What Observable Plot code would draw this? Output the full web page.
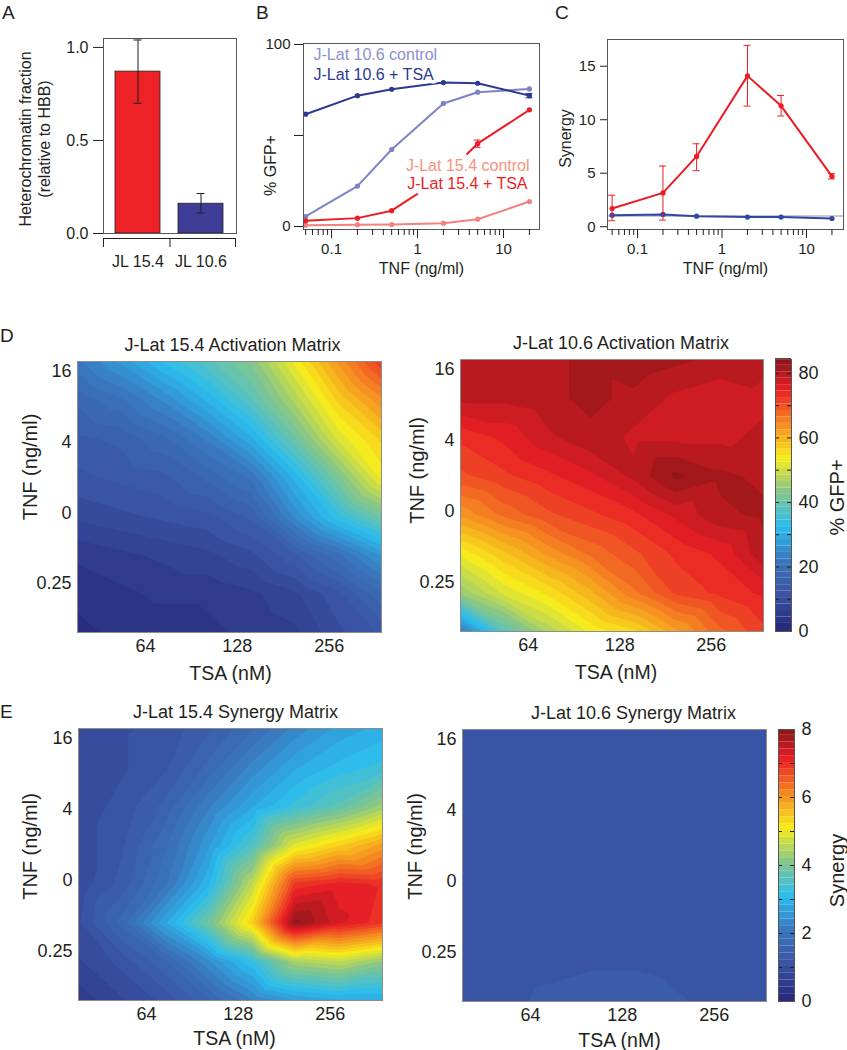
<!DOCTYPE html>
<html>
<head>
<meta charset="utf-8">
<script src="https://cdn.jsdelivr.net/npm/d3@7"></script>
<script src="https://cdn.jsdelivr.net/npm/@observablehq/plot@0.6"></script>
<style>
  body { margin: 0; background: #fff; }
  #fig { position: relative; width: 847px; height: 1050px; overflow: hidden; background: #fff;
         font-family: 'Liberation Sans', Arial, Helvetica, sans-serif; color: #231f20; }
  .panel { position: absolute; }
  .letter { position: absolute; font-size: 19px; line-height: 1; }
</style>
</head>
<body>
<div id="fig"></div>
<script>
const FONT = "'Liberation Sans', Arial, Helvetica, sans-serif";
const INK = "#231f20";

// ---------- Panel A ----------
const hetCategories = ["JL 15.4", "JL 10.6"];
const hetMeans = [0.87, 0.16];
const hetLow = [0.70, 0.11];
const hetHigh = [1.04, 0.215];
const hetColors = ["#ec2227", "#3e3d97"];

// ---------- Panels B & C ----------
const tnfDoses = [0.05, 0.2, 0.5, 2, 5, 20];
const gfp106Control = [5.5, 22.2, 42.3, 67.6, 73.8, 75.6];
const gfp106TSA = [61.7, 71.9, 75.4, 79.1, 78.7, 71.9];
const gfp154Control = [0.7, 0.9, 1.1, 1.8, 4.0, 13.7];
const gfp154TSA = [3.1, 4.6, 8.7, 27.3, 45.5, 64.1];
const gfp106TSAErr = [0, 0, 0, 0, 0, 1.2];
const gfp154TSAErr = [0, 0, 0, 0, 2.0, 0];
const seriesNames = ["J-Lat 10.6 control", "J-Lat 10.6 + TSA", "J-Lat 15.4 control", "J-Lat 15.4 + TSA"];
const seriesLineColors = ["#7d82c4", "#2b3990", "#f3817f", "#ec1c24"];
const seriesTextColors = ["#8c90cc", "#2b3990", "#f6937e", "#ec1c24"];

const synergy154 = [1.7, 3.16, 6.57, 14.1, 11.3, 4.71];
const synergy154Low = [0.56, 0.62, 5.24, 11.28, 10.35, 4.46];
const synergy154High = [2.94, 5.67, 7.75, 16.95, 12.27, 4.96];
const synergy106 = [1.08, 1.15, 0.99, 0.9, 0.9, 0.77];

const tnfMajorTicks = [0.1, 1, 10];
const tnfMinorTicks = [0.05, 0.06, 0.07, 0.08, 0.09, 0.2, 0.3, 0.4, 0.5, 0.6, 0.7, 0.8, 0.9,
                       2, 3, 4, 5, 6, 7, 8, 9, 20];

// ---------- Panels D & E (matrices, rows = TNF high -> low, cols = TSA low -> high) ----------
const tsaGridLog2 = [5.26, 5.73, 6.21, 6.68, 7.15, 7.62, 8.10, 8.57];
const tnfGridLog2 = [4.27, 3.18, 2.08, 0.99, -0.10, -1.19, -2.29, -3.38];
const tsaTickLog2 = [6, 7, 8];
const tsaTickLabels = ["64", "128", "256"];
const tnfTickLog2 = [4, 2, 0, -2];
const tnfTickLabels = ["16", "4", "0", "0.25"];

const act154 = [
  [22, 27, 33, 38, 43, 53, 63, 72],
  [17, 20, 25, 31, 38, 47, 57, 64],
  [14, 15, 18, 23, 30, 40, 51, 57],
  [12, 13, 14, 17, 21, 31, 42, 53],
  [9, 10, 11, 12, 15, 25, 34, 41],
  [5, 6, 7, 8, 10, 14, 20, 27],
  [3, 4, 5, 5, 6, 8, 12, 18],
  [2, 3, 3, 4, 5, 6, 10, 13]
];
const act106 = [
  [79, 79, 80, 81, 82, 81, 80, 79],
  [79, 79, 80, 81, 80, 78, 77, 78],
  [73, 75, 78, 80, 78, 78, 78, 79],
  [70, 72, 74, 76, 79, 83, 81, 80],
  [63, 67, 70, 72, 74, 77, 80, 81],
  [53, 58, 63, 67, 70, 73, 75, 80],
  [45, 51, 55, 60, 66, 71, 73, 75],
  [22, 38, 47, 53, 56, 62, 68, 72]
];
const syn154 = [
  [0.9, 1.0, 1.1, 1.4, 1.8, 2.3, 2.7, 2.9],
  [0.9, 1.0, 1.2, 1.7, 2.3, 2.8, 3.1, 3.3],
  [0.9, 1.1, 1.5, 2.2, 2.8, 3.3, 3.7, 4.3],
  [0.9, 1.2, 1.8, 2.6, 3.5, 4.9, 5.4, 5.9],
  [0.9, 1.3, 2.0, 3.0, 4.6, 6.9, 7.1, 7.0],
  [1.0, 1.7, 2.8, 3.9, 5.4, 7.9, 7.3, 6.9],
  [0.8, 1.1, 1.6, 2.4, 3.2, 4.4, 4.6, 4.2],
  [0.5, 0.8, 1.1, 1.6, 2.2, 2.6, 2.8, 2.8]
];
const syn106 = [
  [1.05, 1.05, 1.05, 1.05, 1.05, 1.05, 1.05, 1.1],
  [1.05, 1.05, 1.05, 1.05, 1.05, 1.05, 1.1, 1.2],
  [1.05, 1.05, 1.05, 1.05, 1.05, 1.05, 1.05, 1.1],
  [1.05, 1.05, 1.05, 1.05, 1.05, 1.05, 1.05, 1.05],
  [1.05, 1.05, 1.05, 1.05, 1.05, 1.05, 1.05, 1.05],
  [1.05, 1.05, 1.1, 1.1, 1.1, 1.1, 1.05, 1.05],
  [1.05, 1.1, 1.15, 1.2, 1.2, 1.15, 1.1, 1.05],
  [1.05, 1.15, 1.3, 1.35, 1.35, 1.25, 1.15, 1.05]
];

const gfpMax = 84.3;
const synMax = 8;
const gfpThresholds = d3.range(0, 43).map(i => i * 2 + 0.5);
const synThresholds = d3.range(0, 40).map(i => i * 2 / 10 + 0.03);
const gfpBarTicks = [0, 20, 40, 60, 80];
const gfpBarMinor = [10, 20, 30, 40, 50, 60, 70, 80];
const synBarTicks = [0, 2, 4, 6, 8];
const synBarMinor = [1, 2, 3, 4, 5, 6, 7];

const jetStops = [0, 0.125, 0.25, 0.375, 0.5, 0.625, 0.75, 0.875, 1];
const jetColors = ["#272a7d", "#3a53a4", "#3a78be", "#2bbdee", "#86c68a", "#f7ec1b", "#f68b21", "#ea1f26", "#7d1417"];

// ---------- helpers ----------
const fig = document.getElementById("fig");
function mount(node, left, top) {
  const div = document.createElement("div");
  div.className = "panel";
  div.style.left = left + "px";
  div.style.top = top + "px";
  div.appendChild(node);
  fig.appendChild(div);
}
function letter(t, left, top) {
  const d = document.createElement("div");
  d.className = "letter";
  d.textContent = t;
  d.style.left = left + "px";
  d.style.top = top + "px";
  fig.appendChild(d);
}
const baseStyle = (size) => ({fontFamily: FONT, fontSize: size + "px", color: INK, background: "transparent", maxWidth: "none", overflow: "visible"});
const label = (txt, opts) => Plot.text([txt], {text: d => d, textAnchor: "middle", lineAnchor: "middle", fill: INK, ...opts});

// ---------- Panel A ----------
{
  const W = 250, H = 290, ml = 103, mr = 14, mt = 38, mb = 57;
  const pIn = 0.28, pOut = 0.18;
  const step = (W - ml - mr) / (hetCategories.length - pIn + 2 * pOut);
  const bw = step * (1 - pIn);
  const het = hetCategories.map((c, i) => ({cat: c, val: hetMeans[i], lo: hetLow[i], hi: hetHigh[i], color: hetColors[i]}));
  const capInset = bw / 2 - 4.5;
  const p = Plot.plot({
    width: W, height: H, marginLeft: ml, marginRight: mr, marginTop: mt, marginBottom: mb,
    style: baseStyle(16),
    x: {domain: hetCategories, paddingInner: pIn, paddingOuter: pOut},
    y: {domain: [0, 1.048]},
    marks: [
      Plot.barY(het, {x: "cat", y: "val", fill: "color", stroke: INK, strokeWidth: 0.8}),
      Plot.ruleX(het, {x: "cat", y1: "lo", y2: "hi", stroke: INK, strokeWidth: 1}),
      Plot.tickY(het, {x: "cat", y: "lo", stroke: INK, insetLeft: capInset, insetRight: capInset}),
      Plot.tickY(het, {x: "cat", y: "hi", stroke: INK, insetLeft: capInset, insetRight: capInset}),
      Plot.frame({stroke: "#555"}),
      Plot.axisY({ticks: [0, 0.5, 1], tickFormat: d3.format(".1f"), tickSize: 10, tickPadding: 5, label: null, fontSize: 16}),
      Plot.axisX({tickSize: 0, tickPadding: 22, label: null, fontSize: 16}),
      Plot.ruleY([0], {dy: 5, stroke: INK}),
      Plot.ruleX([hetCategories[0]], {x: d => d, y1: 0, y2: 0, dy: 5, insetBottom: -9, dx: -(bw / 2 + pOut * step), stroke: INK}),
      Plot.ruleX([hetCategories[0]], {x: d => d, y1: 0, y2: 0, dy: 5, insetBottom: -9, dx: step / 2, stroke: INK}),
      Plot.ruleX([hetCategories[1]], {x: d => d, y1: 0, y2: 0, dy: 5, insetBottom: -9, dx: (bw / 2 + pOut * step), stroke: INK}),
      label("Heterochromatin fraction\n(relative to HBB)", {frameAnchor: "left", rotate: -90, dx: -69, dy: 3, lineHeight: 1.2, fontSize: 16})
    ]
  });
  mount(p, 0, 0);
}

// ---------- Panel B ----------
{
  const rows = [];
  const vals = [gfp106Control, gfp106TSA, gfp154Control, gfp154TSA];
  vals.forEach((arr, s) => arr.forEach((v, i) => rows.push({dose: tnfDoses[i], gfp: v, series: seriesNames[s], color: seriesLineColors[s]})));
  const errs = [];
  gfp106TSA.forEach((v, i) => { if (gfp106TSAErr[i] > 0) errs.push({dose: tnfDoses[i], lo: v - gfp106TSAErr[i], hi: v + gfp106TSAErr[i], color: seriesLineColors[1]}); });
  gfp154TSA.forEach((v, i) => { if (gfp154TSAErr[i] > 0) errs.push({dose: tnfDoses[i], lo: v - gfp154TSAErr[i], hi: v + gfp154TSAErr[i], color: seriesLineColors[3]}); });
  const legend = seriesNames.map((n, i) => ({name: n, color: seriesTextColors[i]}));
  const legendText = (d, anchor, textAnchor, dx, dy, sw) =>
    Plot.text([d], {text: "name", fill: "color", frameAnchor: anchor, textAnchor, lineAnchor: "middle", dx, dy, fontSize: 16, stroke: "white", strokeWidth: sw, paintOrder: "stroke"});
  const p = Plot.plot({
    width: 302, height: 290, marginLeft: 63, marginRight: 3, marginTop: 43, marginBottom: 61,
    style: baseStyle(15),
    x: {type: "log", domain: [0.0472, 26.2]},
    y: {domain: [-1.65, 100.55]},
    marks: [
      Plot.line(rows, {x: "dose", y: "gfp", z: "series", stroke: "color", strokeWidth: 2}),
      Plot.ruleX(errs, {x: "dose", y1: "lo", y2: "hi", stroke: "color", strokeWidth: 1}),
      Plot.ruleY(errs, {x1: "dose", x2: "dose", y: "lo", stroke: "color", insetLeft: -3.5, insetRight: -3.5}),
      Plot.ruleY(errs, {x1: "dose", x2: "dose", y: "hi", stroke: "color", insetLeft: -3.5, insetRight: -3.5}),
      Plot.dot(rows, {x: "dose", y: "gfp", fill: "color", r: 2.6}),
      legendText(legend[0], "top-left", "start", 10, 11, 7),
      legendText(legend[1], "top-left", "start", 10, 31, 7),
      legendText(legend[2], "top-right", "end", -10, 122, 12),
      legendText(legend[3], "top-right", "end", -12, 140, 12),
      Plot.frame({stroke: "#555"}),
      Plot.axisY({ticks: [0, 50, 100], tickFormat: d => d === 50 ? "" : d, tickSize: 9, tickPadding: 4, label: null, fontSize: 15}),
      Plot.axisX({ticks: tnfMinorTicks, tickFormat: () => "", tickSize: 6, label: null}),
      Plot.axisX({ticks: tnfMajorTicks, tickFormat: d => String(d), tickSize: 9, tickPadding: 5, label: null, fontSize: 15}),
      label("TNF (ng/ml)", {frameAnchor: "bottom", dy: 39, fontSize: 16}),
      label("% GFP+", {frameAnchor: "left", rotate: -90, dx: -33, dy: 29, fontSize: 16})
    ]
  });
  mount(p, 240, 0);
}

// ---------- Panel C ----------
{
  const red = tnfDoses.map((d, i) => ({dose: d, s: synergy154[i], lo: synergy154Low[i], hi: synergy154High[i]}));
  const blue = tnfDoses.map((d, i) => ({dose: d, s: synergy106[i]}));
  const RED = "#ec1c24", BLUE = "#3048a3";
  const p = Plot.plot({
    width: 307, height: 290, marginLeft: 67, marginRight: 4, marginTop: 39, marginBottom: 61,
    style: baseStyle(15),
    x: {type: "log", domain: [0.0441, 27.4]},
    y: {domain: [-0.26, 17.5]},
    marks: [
      Plot.ruleY([1], {stroke: "#b5b5b5", strokeWidth: 1.6}),
      Plot.line(blue, {x: "dose", y: "s", stroke: BLUE, strokeWidth: 2}),
      Plot.dot(blue, {x: "dose", y: "s", fill: BLUE, r: 2.6}),
      Plot.ruleX(red, {x: "dose", y1: "lo", y2: "hi", stroke: RED, strokeWidth: 1}),
      Plot.ruleY(red, {x1: "dose", x2: "dose", y: "lo", stroke: RED, insetLeft: -3.5, insetRight: -3.5}),
      Plot.ruleY(red, {x1: "dose", x2: "dose", y: "hi", stroke: RED, insetLeft: -3.5, insetRight: -3.5}),
      Plot.line(red, {x: "dose", y: "s", stroke: RED, strokeWidth: 2}),
      Plot.dot(red, {x: "dose", y: "s", fill: RED, r: 2.6}),
      Plot.frame({stroke: "#555"}),
      Plot.axisY({ticks: [0, 5, 10, 15], tickSize: 7, tickPadding: 5, label: null, fontSize: 15}),
      Plot.axisX({ticks: tnfMinorTicks, tickFormat: () => "", tickSize: 6, label: null}),
      Plot.axisX({ticks: tnfMajorTicks, tickFormat: d => String(d), tickSize: 9, tickPadding: 5, label: null, fontSize: 15}),
      label("TNF (ng/ml)", {frameAnchor: "bottom", dy: 39, fontSize: 16}),
      label("Synergy", {frameAnchor: "left", rotate: -90, dx: -42, dy: 4, fontSize: 16})
    ]
  });
  mount(p, 540, 0);
}

// ---------- Heatmaps ----------
function heatmap(o) {
  const pts = [];
  o.matrix.forEach((row, r) => row.forEach((v, c) => pts.push({tsa: tsaGridLog2[c], tnf: tnfGridLog2[r], v})));
  const xd = [tsaGridLog2[0], tsaGridLog2[tsaGridLog2.length - 1]];
  const yd = [tnfGridLog2[tnfGridLog2.length - 1], tnfGridLog2[0]];
  return Plot.plot({
    width: o.w, height: o.h, marginLeft: o.ml, marginRight: o.mr, marginTop: o.mt, marginBottom: o.mb,
    style: baseStyle(18),
    x: {domain: xd},
    y: {domain: yd},
    color: {type: "linear", domain: jetStops.map(t => t * o.cmax), range: jetColors, interpolate: "rgb"},
    marks: [
      Plot.contour(pts, {x: "tsa", y: "tnf", fill: "v", interpolate: "barycentric", thresholds: o.thresholds,
                         x1: xd[0], x2: xd[1], y1: yd[0], y2: yd[1], pixelSize: 1, stroke: "none"}),
      Plot.frame({stroke: "#8c8c8c"}),
      Plot.axisX({ticks: tsaTickLog2, tickFormat: d => tsaTickLabels[tsaTickLog2.indexOf(d)], tickSize: 0, tickPadding: 7, label: null, fontSize: 18}),
      Plot.axisY({ticks: tnfTickLog2, tickFormat: d => tnfTickLabels[tnfTickLog2.indexOf(d)], tickSize: 0, tickPadding: 6, label: null, fontSize: 18}),
      label(o.title, {frameAnchor: "top", dx: o.titleDx, dy: -16, fontSize: 18}),
      label("TSA (nM)", {frameAnchor: "bottom", dx: o.xlabDx, dy: o.xlabDy, fontSize: 19.5}),
      label("TNF (ng/ml)", {frameAnchor: "left", rotate: -90, dx: o.ylabDx, dy: o.ylabDy, fontSize: 20})
    ]
  });
}
function colorbar(o) {
  return Plot.plot({
    width: o.w, height: o.h, marginLeft: o.ml, marginRight: o.mr, marginTop: o.mt, marginBottom: o.mb,
    style: baseStyle(18),
    y: {domain: [0, o.cmax]},
    color: {type: "linear", domain: jetStops.map(t => t * o.cmax), range: jetColors, interpolate: "rgb"},
    marks: [
      Plot.rect(o.thresholds, {y1: (d, i) => i === 0 ? 0 : d, y2: (d, i) => i + 1 < o.thresholds.length ? o.thresholds[i + 1] : o.cmax, fill: d => d}),
      Plot.tickY(o.minor, {y: d => d, stroke: INK, insetRight: 12}),
      Plot.tickY(o.minor, {y: d => d, stroke: INK, insetLeft: 12}),
      Plot.frame({stroke: "#555"}),
      Plot.axisY({anchor: "right", ticks: o.ticks, tickSize: 0, tickPadding: 7, label: null, fontSize: 18}),
      label(o.label, {frameAnchor: "right", rotate: -90, dx: o.labDx, dy: o.labDy, fontSize: 20})
    ]
  });
}

mount(heatmap({matrix: act154, title: "J-Lat 15.4 Activation Matrix", thresholds: gfpThresholds, cmax: gfpMax,
  w: 400, h: 360, ml: 77, mr: 19, mt: 41, mb: 48, titleDx: 3, xlabDx: 1, xlabDy: 41, ylabDx: -47, ylabDy: -30}), 0, 320);
mount(heatmap({matrix: act106, title: "J-Lat 10.6 Activation Matrix", thresholds: gfpThresholds, cmax: gfpMax,
  w: 365, h: 360, ml: 60, mr: 2, mt: 39, mb: 49, titleDx: 9, xlabDx: 4, xlabDy: 41, ylabDx: -43, ylabDy: -25}), 400, 320);
mount(colorbar({thresholds: gfpThresholds, cmax: gfpMax, ticks: gfpBarTicks, minor: gfpBarMinor, label: "% GFP+",
  w: 82, h: 360, ml: 10, mr: 56, mt: 39, mb: 49, labDx: 46, labDy: 2}), 765, 320);
mount(heatmap({matrix: syn154, title: "J-Lat 15.4 Synergy Matrix", thresholds: synThresholds, cmax: synMax,
  w: 400, h: 360, ml: 78, mr: 18, mt: 38, mb: 50, titleDx: 5, xlabDx: 4, xlabDy: 38, ylabDx: -48, ylabDy: -18}), 0, 690);
mount(heatmap({matrix: syn106, title: "J-Lat 10.6 Synergy Matrix", thresholds: synThresholds, cmax: synMax,
  w: 370, h: 360, ml: 62, mr: 4, mt: 39, mb: 49, titleDx: 19, xlabDx: 5, xlabDy: 39, ylabDx: -47, ylabDy: -19}), 400, 690);
mount(colorbar({thresholds: synThresholds, cmax: synMax, ticks: synBarTicks, minor: synBarMinor, label: "Synergy",
  w: 82, h: 360, ml: 13, mr: 53, mt: 39, mb: 49, labDx: 43, labDy: 5}), 765, 690);

letter("A", 2, 3);
letter("B", 256, 3);
letter("C", 555, 3);
letter("D", 0, 326);
letter("E", 0, 702);
</script>
</body>
</html>
